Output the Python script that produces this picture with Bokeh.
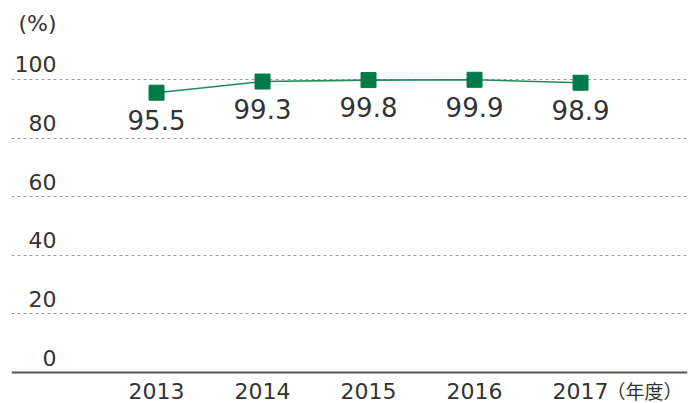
from bokeh.plotting import figure
from bokeh.models import Range1d, Grid, FixedTicker, Span, ColumnDataSource
from bokeh.core.properties import value
from bokeh.embed import file_html
from bokeh.resources import INLINE

# ---- data ----
years = ["2013", "2014", "2015", "2016", "2017"]
rates = [95.5, 99.3, 99.8, 99.9, 98.9]
y_ticks = [0, 20, 40, 60, 80, 100]
y_tick_labels = ["0", "20", "40", "60", "80", "100"]
unit_label = "(%)"
year_unit = "（年度）"

xs = list(range(len(years)))

p = figure(width=699, height=403, output_backend="svg", toolbar_location=None,
           x_axis_type=None, y_axis_type=None,
           x_range=Range1d(-1.368, 5.009), y_range=Range1d(-10.58, 126.96),
           min_border_left=11, min_border_right=12, min_border_top=0, min_border_bottom=0)
p.outline_line_color = None
p.background_fill_color = "white"
p.border_fill_color = "white"

grid = Grid(dimension=1, ticker=FixedTicker(ticks=y_ticks[1:]),
            grid_line_color="#9a9a9a", grid_line_dash="3 3", grid_line_width=1)
p.add_layout(grid)
p.add_layout(Span(location=0, dimension="width", line_color="#555555", line_width=2))

src = ColumnDataSource(dict(x=xs, y=rates, base=[0] * len(xs),
                            lab=[f"{v:.1f}" for v in rates], yr=years))
p.line("x", "y", source=src, line_color="#1f8a5a", line_width=1.6)
p.scatter("x", "y", source=src, marker="square", size=15, fill_color="#007a48", line_color="#007a48")

p.text("x", "y", text="lab", source=src, text_align="center", text_baseline="alphabetic",
       y_offset=27, text_font=value("DejaVu Sans"), text_font_size="26px", text_color="#333333")

# x labels
p.text("x", "base", text="yr", source=src, text_align="center", text_baseline="alphabetic",
       y_offset=18, text_font=value("DejaVu Sans"), text_font_size="22px", text_color="#333333")
p.text(x=[xs[-1]], y=[0], text=[year_unit], text_align="left", text_baseline="alphabetic",
       x_offset=26, y_offset=18, text_font=value("Noto Sans CJK JP"), text_font_size="19px",
       text_color="#333333")

# y labels
p.text(x=[-0.943] * len(y_ticks), y=y_ticks, text=y_tick_labels, text_align="right",
       text_baseline="alphabetic", y_offset=-15, text_font=value("DejaVu Sans"),
       text_font_size="22px", text_color="#333333")
p.text(x=[-1.368], y=[y_ticks[-1]], text=[unit_label], text_align="left", text_baseline="alphabetic",
       x_offset=7, y_offset=-56, text_font=value("DejaVu Sans"), text_font_size="22px",
       text_color="#333333")

open("out.html", "w").write(file_html(p, INLINE))
